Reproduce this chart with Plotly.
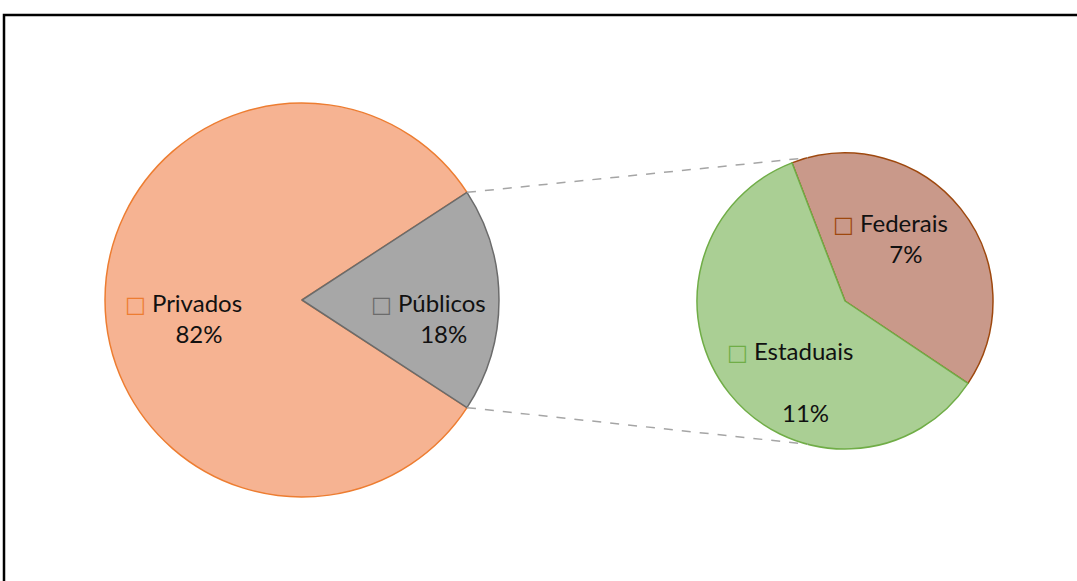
import math
import plotly.graph_objects as go

# dados
main_labels = ["Privados", "Públicos"]
main_values = [81.6, 18.4]
sub_labels = ["Federais", "Estaduais"]
sub_values = [7.4, 11.0]

W, H = 1077, 581

main_fill = ["#F6B392", "#A7A7A7"]
main_line = ["#ED7D31", "#6B6B6B"]
sub_fill = ["#C9998A", "#AACF94"]
sub_line = ["#9E480E", "#70AD47"]

# geometria (pixels)
main_c, main_r = (302, 300), 197
sub_c, sub_r = (845, 301), 148


def dom(c, r):
    return dict(x=[(c[0] - r) / W, (c[0] + r) / W],
                y=[1 - (c[1] + r) / H, 1 - (c[1] - r) / H])


def pt(c, r, ang):
    # angulo no sentido horario a partir das 12h
    a = math.radians(ang)
    return ((c[0] + r * math.sin(a)) / W, 1 - (c[1] - r * math.cos(a)) / H)


total = sum(main_values)
pub_span = main_values[1] / total * 360
main_rot = 90 + pub_span / 2
sub_rot = -21

fig = go.Figure()

fig.add_trace(go.Pie(
    labels=main_labels, values=main_values, sort=False, direction="clockwise",
    rotation=main_rot, domain=dom(main_c, main_r), textinfo="none",
    marker=dict(colors=main_fill, line=dict(color=main_line, width=1.5)),
    showlegend=False, hoverinfo="label+percent",
))
fig.add_trace(go.Pie(
    labels=sub_labels, values=sub_values, sort=False, direction="clockwise",
    rotation=sub_rot, domain=dom(sub_c, sub_r), textinfo="none",
    marker=dict(colors=sub_fill, line=dict(color=sub_line, width=1.5)),
    showlegend=False, hoverinfo="label+value",
))

# linhas de ligacao
p_top = pt(main_c, main_r, 90 - pub_span / 2)
p_bot = pt(main_c, main_r, 90 + pub_span / 2)
s_top = pt(sub_c, sub_r, -14.5)
s_bot = pt(sub_c, sub_r, 194.5)
for a, b in [(p_top, s_top), (p_bot, s_bot)]:
    fig.add_shape(type="line", xref="paper", yref="paper",
                  x0=a[0], y0=a[1], x1=b[0], y1=b[1],
                  line=dict(color="#A5A5A5", width=1.5, dash="dash"))

# moldura
fig.add_shape(type="rect", xref="paper", yref="paper",
              x0=4 / W, y0=-0.05, x1=1.05, y1=1 - 15 / H,
              line=dict(color="black", width=2.5))

NB = "\u00a0"
pcts = [round(v) for v in main_values] + [round(v) for v in sub_values]
labels = main_labels + sub_labels
lcolors = main_line + sub_line
# posicoes dos rotulos (pixels, relativos ao centro de cada pizza)
offsets = [(main_c, -119, 18), (main_c, 126, 18), (sub_c, 45, -63), (sub_c, -55, 80)]
gaps = ["<br>", "<br>", "<br>", "<br><br>"]
for lab, p, col, (c, dx, dy), g in zip(labels, pcts, lcolors, offsets, gaps):
    txt = (f"<span style='color:{col};font-family:DejaVu Sans;font-size:22px'>□</span> {lab}"
           f"{g}{NB * 5}{p}%")
    fig.add_annotation(x=(c[0] + dx) / W, y=1 - (c[1] + dy) / H, xref="paper", yref="paper",
                       xanchor="center", yanchor="middle",
                       text=txt, showarrow=False, align="center",
                       font=dict(family="Lato, Carlito, Calibri, sans-serif", size=24, color="#111111"))

fig.update_layout(width=W, height=H, margin=dict(l=0, r=0, t=0, b=0),
                  paper_bgcolor="white", plot_bgcolor="white")

fig.write_html("out.html", config={"displayModeBar": False},
               post_script="document.body.style.margin='0';")
